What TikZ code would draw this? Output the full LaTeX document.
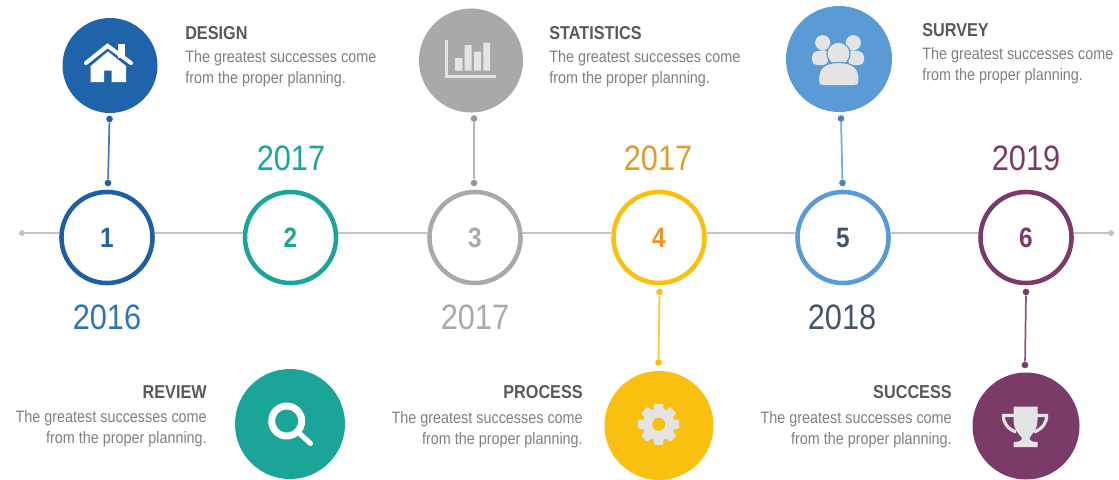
\documentclass[tikz,border=0pt]{standalone}
\usepackage{fontspec}
\setmainfont[FakeStretch=0.87]{Liberation Sans}
\definecolor{cblue}{HTML}{1F64AB}
\definecolor{cteal}{HTML}{1BA598}
\definecolor{cgray}{HTML}{A9A9A9}
\definecolor{cyel}{HTML}{F9C00F}
\definecolor{clblue}{HTML}{5B9BD5}
\definecolor{cplum}{HTML}{7A3B68}
\definecolor{icong}{HTML}{E4E4E4}
\definecolor{cslate}{HTML}{44546A}
\definecolor{cyear}{HTML}{2E75B6}
\definecolor{camber}{HTML}{E09B2D}
\definecolor{cfour}{HTML}{E8952A}
\definecolor{caxis}{HTML}{C4C4C4}
\tikzset{
  ring/.style={circle,draw=#1,line width=3.4pt,fill=white,minimum size=68.3pt,inner sep=0pt},
  disc/.style={circle,fill=#1,inner sep=0pt},
  pin/.style={circle,fill=#1,inner sep=0pt,minimum size=5pt},
  link/.style={draw=#1,line width=1.3pt,opacity=.85},
  axisline/.style={draw=caxis,line width=1.4pt},
  num/.style={font=\fontsize{21}{24}\bfseries\selectfont,text=#1},
  yearlabel/.style={font=\fontsize{26.5}{30}\selectfont,text=#1},
  blurb/.style={font=\fontsize{12.4}{15.8}\selectfont,text=black!50,inner sep=0pt}
}
\newcommand{\blurbtext}[2]{{\bfseries\color{black!65}\fontsize{14}{16}\selectfont #1}\\[#2]The greatest successes come\\from the proper planning.}
\begin{document}
\begin{tikzpicture}[x=0.75pt,y=-0.75pt]
\useasboundingbox (0,0) rectangle (1119,479);
\clip (0,0) rectangle (1119,479);
% end points of the axis
\node[pin=caxis,minimum size=4.5pt] (endl) at (22,233) {};
\node[pin=caxis,minimum size=4.5pt] (endr) at (1111,233) {};
% rings
\node[ring=cblue!95!black] (r1) at (107,237.5) {};
\node[ring=cteal] (r2) at (290.5,237.5) {};
\node[ring=cgray] (r3) at (475,237.5) {};
\node[ring=cyel] (r4) at (659,237.5) {};
\node[ring=clblue] (r5) at (843,237.5) {};
\node[ring=cplum] (r6) at (1026,237.5) {};
\draw[axisline] (endl) -- (r1.west |- endl);
\draw[axisline] (r1.east |- endl) -- (r2.west |- endl);
\draw[axisline] (r2.east |- endl) -- (r3.west |- endl);
\draw[axisline] (r3.east |- endl) -- (r4.west |- endl);
\draw[axisline] (r4.east |- endl) -- (r5.west |- endl);
\draw[axisline] (r5.east |- endl) -- (r6.west |- endl);
\draw[axisline] (r6.east |- endl) -- (endr);
% ring numbers
\node[num=cblue] (n1) at (107,238) {1};
\node[num=cteal] (n2) at (290.5,238) {2};
\node[num=cgray] (n3) at (475,238) {3};
\node[num=cfour] (n4) at (659,238) {4};
\node[num=cslate] (n5) at (843,238) {5};
\node[num=cplum] (n6) at (1026,238) {6};
% years
\node[yearlabel=cyear] (y1) at (107,317) {2016};
\node[yearlabel=cteal] (y2) at (291,158) {2017};
\node[yearlabel=cgray] (y3) at (475,317) {2017};
\node[yearlabel=camber] (y4) at (658,158) {2017};
\node[yearlabel=cslate] (y5) at (842,317) {2018};
\node[yearlabel=cplum] (y6) at (1026,158) {2019};
% discs
\node[disc=cblue,minimum size=71.25pt] (d1) at (110,65.5) {};
\node[disc=cteal,minimum size=82.5pt] (d2) at (290,424) {};
\node[disc=cgray,minimum size=78pt] (d3) at (471,60.5) {};
\node[disc=cyel,minimum size=81.75pt] (d4) at (659,425.5) {};
\node[disc=clblue,minimum size=79.5pt] (d5) at (839,59) {};
\node[disc=cplum,minimum size=80.25pt] (d6) at (1026,426) {};
% connector pins
\node[pin=cblue] (p1a) at (109.5,119) {}; \node[pin=cblue] (p1b) at (108,183) {};
\node[pin=cgray!90!black] (p3a) at (474,118.5) {}; \node[pin=cgray!90!black] (p3b) at (474,183) {};
\node[pin=cyel] (p4a) at (659.5,292) {}; \node[pin=cyel] (p4b) at (658.5,362.5) {};
\node[pin=clblue!85!black] (p5a) at (841,118.5) {}; \node[pin=clblue!85!black] (p5b) at (842.5,183) {};
\node[pin=cplum] (p6a) at (1026,292) {}; \node[pin=cplum] (p6b) at (1025,365) {};
\draw[link=cblue] (p1a) -- (p1b);
\draw[link=cgray] (p3a) -- (p3b);
\draw[link=cyel] (p4a) -- (p4b);
\draw[link=clblue] (p5a) -- (p5b);
\draw[link=cplum] (p6a) -- (p6b);
% texts
\node[blurb,anchor=north west,align=left] (t1) at (185,26.5) {\blurbtext{DESIGN}{1.2pt}};
\node[blurb,anchor=north west,align=left] (t3) at (549,26.5) {\blurbtext{STATISTICS}{1.2pt}};
\node[blurb,anchor=north west,align=left] (t5) at (922,23.5) {\blurbtext{SURVEY}{1.2pt}};
\node[blurb,anchor=north east,align=right] (t2) at (207,385.5) {\blurbtext{REVIEW}{2.4pt}};
\node[blurb,anchor=north east,align=right] (t4) at (583,385.5) {\blurbtext{PROCESS}{2.4pt}};
\node[blurb,anchor=north east,align=right] (t6) at (952,385.5) {\blurbtext{SUCCESS}{2.4pt}};
% house icon
\fill[white] (90.7,82) -- (90.7,66) -- (108,51.5) -- (126,66) -- (126,82) -- (111.7,82) -- (111.7,70.7) -- (104,70.7) -- (104,82) -- cycle;
\draw[white,line width=3pt,line cap=round,line join=miter] (86,63) -- (107.5,45.8) -- (131,63);
\fill[white] (117.5,43.5) rectangle (124.7,58);
% chart icon
\draw[icong,line width=2.2pt] (446.8,40) -- (446.8,76.5) -- (496,76.5);
\fill[icong] (455,58) rectangle (462.3,70.7) (464.7,45) rectangle (471.7,70.7) (474,51.7) rectangle (481,70.7) (483.3,42.7) rectangle (490,70.7);
% people icon
\fill[icong] (822.7,42.7) circle (7.6) (853.3,42.7) circle (7.6);
\fill[icong,rounded corners=3.5pt] (812,52) -- (828,49.5) -- (828,65) -- (812,65) -- cycle;
\fill[icong,rounded corners=3.5pt] (848,49.5) -- (864,52) -- (864,65) -- (848,65) -- cycle;
\draw[clblue,line width=.9pt,fill=icong] (838.5,53.8) circle (11.6);
\draw[clblue,line width=.9pt,fill=icong] (819,85) -- (819,76) .. controls (819,66) and (828,62.5) .. (838.7,62.5) .. controls (849,62.5) and (858.5,66) .. (858.5,76) -- (858.5,85) -- cycle;
\fill[icong,rounded corners=3pt] (819.3,85) -- (819.3,72) -- (858.3,72) -- (858.3,85) -- cycle;
% search icon
\draw[white,line width=5.2pt] (286.7,421) circle (15);
\draw[white,line width=3.8pt,line cap=round] (298,432) -- (310.5,443.5);
% gear icon
\foreach \a in {0,45,...,315}{
  \fill[icong,rotate around={\a:(658.7,424.3)},rounded corners=1pt] (653.7,424.3) -- (654,403.8) -- (663.4,403.8) -- (663.7,424.3) -- cycle;
}
\fill[icong] (658.7,424.3) circle (16);
\fill[cyel] (658.7,424.3) circle (6.5);
% trophy icon
\draw[icong,line width=2.4pt] (1014,415.5) -- (1003.5,415.5) .. controls (1003,423) and (1008,429) .. (1016,432);
\draw[icong,line width=2.4pt] (1037,415.5) -- (1046.5,415.5) .. controls (1047,423) and (1042,429) .. (1034,432);
\fill[icong] (1013.5,406.7) -- (1037.5,406.7) -- (1037.5,420) .. controls (1037.5,430) and (1031,435) .. (1029.5,438) .. controls (1029.5,441) and (1033,442) .. (1037.5,442) -- (1037.5,447) -- (1013.5,447) -- (1013.5,442) .. controls (1018,442) and (1022,441) .. (1022,438) .. controls (1020,435) and (1013.5,430) .. (1013.5,420) -- cycle;
\end{tikzpicture}
\end{document}
